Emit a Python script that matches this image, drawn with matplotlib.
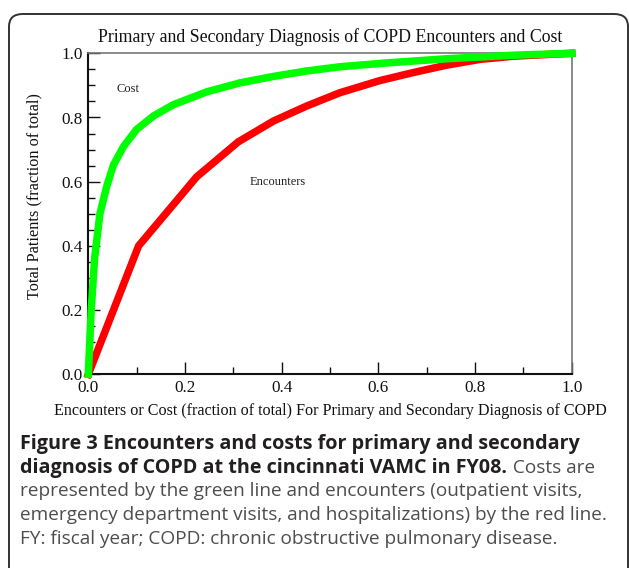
import matplotlib
matplotlib.use("Agg")
import matplotlib.pyplot as plt
from matplotlib.patches import FancyBboxPatch
from matplotlib.ticker import MultipleLocator

# curve points
cost_x = [0.0, 0.006, 0.013, 0.024, 0.038, 0.052, 0.073, 0.10, 0.135, 0.176,
          0.245, 0.314, 0.383, 0.452, 0.52, 0.617, 0.741, 0.879, 1.0]
cost_y = [0.0, 0.20, 0.36, 0.50, 0.585, 0.652, 0.71, 0.763, 0.805, 0.84,
          0.88, 0.908, 0.928, 0.945, 0.958, 0.970, 0.983, 0.994, 1.0]
enc_x = [0.0, 0.104, 0.224, 0.31, 0.383, 0.452, 0.52, 0.603, 0.672, 0.741,
         0.81, 0.879, 1.0]
enc_y = [0.0, 0.40, 0.615, 0.724, 0.789, 0.836, 0.877, 0.915, 0.94, 0.963,
         0.981, 0.991, 1.0]

ticks = [0.0, 0.2, 0.4, 0.6, 0.8, 1.0]
title = "Primary and Secondary Diagnosis of COPD Encounters and Cost"
xlab = "Encounters or Cost (fraction of total) For Primary and Secondary Diagnosis of COPD"
ylab = "Total Patients (fraction of total)"

caption_bold = ["Figure 3 Encounters and costs for primary and secondary",
                "diagnosis of COPD at the cincinnati VAMC in FY08."]
caption_rest = [" Costs are",
                "represented by the green line and encounters (outpatient visits,",
                "emergency department visits, and hospitalizations) by the red line.",
                "FY: fiscal year; COPD: chronic obstructive pulmonary disease."]

W, H = 629, 568
fig = plt.figure(figsize=(W / 100, H / 100), dpi=100)
serif = "Liberation Serif"

# rounded frame
frame = FancyBboxPatch((9 / W, -0.1), (628 - 9) / W, 1 - 14 / H + 0.1,
                       boxstyle="round,pad=0,rounding_size=0.022",
                       transform=fig.transFigure, facecolor="none",
                       edgecolor="#333333", linewidth=1.4)
fig.patches.append(frame)

ax = fig.add_axes([88.3 / W, 1 - 374.3 / H, (571.8 - 88.3) / W, (374.3 - 53.3) / H])
ax.plot(enc_x, enc_y, color="#ff0000", linewidth=5.4, clip_on=False, zorder=3)
ax.plot(cost_x, cost_y, color="#00ff00", linewidth=5.4, clip_on=False, zorder=4)

ax.set_xlim(0, 1)
ax.set_ylim(0, 1)
ax.set_xticks(ticks)
ax.set_yticks(ticks)
ax.set_xticklabels([f"{t:.1f}" for t in ticks], fontfamily=serif, fontsize=12.3)
ax.set_yticklabels([f"{t:.1f}" for t in ticks], fontfamily=serif, fontsize=12.3)
ax.xaxis.set_minor_locator(MultipleLocator(0.1))
ax.yaxis.set_minor_locator(MultipleLocator(0.05))
ax.tick_params(which="both", direction="in", top=False, right=False, colors="#111111")
ax.tick_params(which="major", length=8.5, width=1.0, pad=4)
ax.tick_params(which="minor", length=5, width=1.0)

for side in ["left", "bottom"]:
    ax.spines[side].set_color("#111111")
    ax.spines[side].set_linewidth(1.5)
for side in ["top", "right"]:
    ax.spines[side].set_color("#777777")
    ax.spines[side].set_linewidth(1.2)

ax.set_title(title, fontfamily=serif, fontsize=12.75, pad=8, color="#111111")
ax.set_xlabel(xlab, fontfamily=serif, fontsize=11.6, labelpad=5, color="#111111")
ax.set_ylabel(ylab, fontfamily=serif, fontsize=11.7, labelpad=6, color="#111111")
ax.yaxis.set_label_coords(-0.095, 0.555)

ax.text(0.059, 0.89, "Cost", fontfamily=serif, fontsize=9, color="#222222",
        ha="left", va="center")
ax.text(0.334, 0.60, "Encounters", fontfamily=serif, fontsize=9, color="#222222",
        ha="left", va="center")

# caption
cap = "Open Sans"
x0 = 20.5 / W
base = [449.5, 473.0, 496.5, 520.0, 543.5]
bsize = 14.2
rsize = 13.7
fig.text(x0, 1 - base[0] / H, caption_bold[0], fontfamily=cap, fontweight="bold",
         fontsize=bsize, color="#231f20", va="baseline")
b2 = fig.text(x0, 1 - base[1] / H, caption_bold[1], fontfamily=cap, fontweight="bold",
              fontsize=bsize, color="#231f20", va="baseline")
fig.canvas.draw()
ext = b2.get_window_extent(fig.canvas.get_renderer())
fig.text(ext.x1 / W, 1 - base[1] / H, caption_rest[0], fontfamily=cap,
         fontsize=rsize, color="#4d4d4d", va="baseline")
for i, line in enumerate(caption_rest[1:]):
    fig.text(x0, 1 - base[i + 2] / H, line, fontfamily=cap, fontsize=rsize,
             color="#4d4d4d", va="baseline")

fig.savefig("out.png", dpi=100)
